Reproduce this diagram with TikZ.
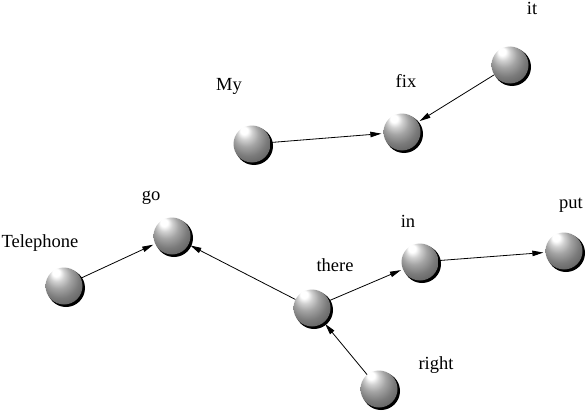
\documentclass[tikz,border=0pt]{standalone}
\usepackage{fontspec}
\setmainfont{Liberation Serif}
\usetikzlibrary{arrows.meta}
\pgfdeclareradialshading{sph}{\pgfpoint{-12bp}{20bp}}{%
  color(0bp)=(white);
  color(5bp)=(white);
  color(10bp)=(black!18);
  color(17bp)=(black!36);
  color(26bp)=(black!52);
  color(38bp)=(black!66);
  color(50bp)=(black!80)}
\tikzset{
  sphere/.style={circle, minimum size=37pt, inner sep=0pt, shading=sph},
  rim/.style={fill=black},
  lbl/.style={anchor=base, inner sep=0pt, font=\fontsize{18.5}{20}\selectfont},
  conn/.style={line width=0.8pt, shorten >=2pt,
    -{Triangle[length=11pt,width=5.5pt]}}
}
\begin{document}
\begin{tikzpicture}[x=1pt,y=-1pt]
\useasboundingbox (0,0) rectangle (586,412);
% centres
\coordinate (cmy) at (252,144);
\coordinate (cfix) at (402,132);
\coordinate (cit) at (510,65);
\coordinate (cgo) at (172,236);
\coordinate (ctel) at (64,286);
\coordinate (cthere) at (312,308);
\coordinate (cin) at (420,262);
\coordinate (cput) at (564,251);
\coordinate (cright) at (379,389);
% black rims (shadow crescents)
\foreach \c in {cmy,cfix,cit,cgo,ctel,cthere,cin,cput,cright}
  \fill[rim] ([shift={(2,2)}]\c) circle[radius=19];
% spheres
\node[sphere] (my) at (cmy) {};
\node[sphere] (fix) at (cfix) {};
\node[sphere] (it) at (cit) {};
\node[sphere] (go) at (cgo) {};
\node[sphere] (tel) at (ctel) {};
\node[sphere] (there) at (cthere) {};
\node[sphere] (in) at (cin) {};
\node[sphere] (put) at (cput) {};
\node[sphere] (right) at (cright) {};
% labels
\node[lbl] (lmy) at (229,90) {My};
\node[lbl] (lfix) at (406,87) {fix};
\node[lbl] (lit) at (532,15) {it};
\node[lbl] (lgo) at (151,200) {go};
\node[lbl] (ltel) at (40,247) {Telephone};
\node[lbl] (lthere) at (335,271) {there};
\node[lbl] (lin) at (408,227) {in};
\node[lbl] (lput) at (571,208) {put};
\node[lbl] (lright) at (436,369) {right};
% connectors
\draw[conn] (my) -- (fix);
\draw[conn] (it) -- (fix);
\draw[conn] (tel) -- (go);
\draw[conn] (there) -- (go);
\draw[conn] (there) -- (in);
\draw[conn] (in) -- (put);
\draw[conn] (right) -- (there);
\end{tikzpicture}
\end{document}
